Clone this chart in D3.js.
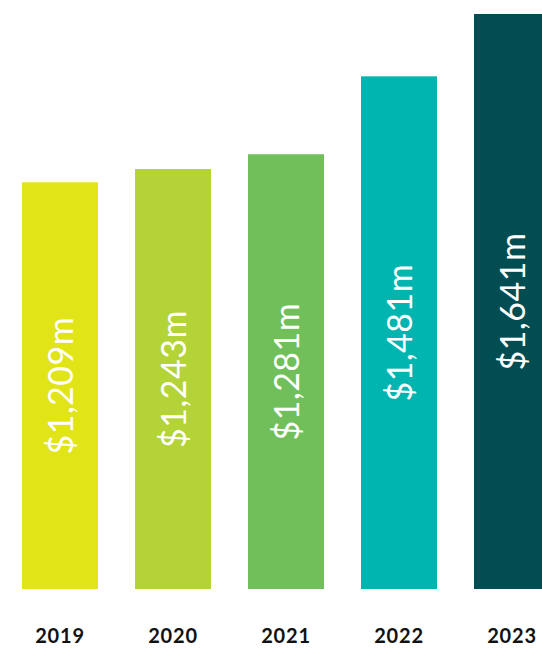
<!DOCTYPE html>
<html>
<head>
<meta charset="utf-8">
<script src="https://cdn.jsdelivr.net/npm/d3@7"></script>
<style>
  html, body { margin: 0; padding: 0; background: #fff; }
  svg { display: block; }
</style>
</head>
<body>
<div id="main"></div>
<script>
// data
var years = ["2019", "2020", "2021", "2022", "2023"];
var values = [1209, 1243, 1281, 1481, 1641];
var labels = ["$1,209m", "$1,243m", "$1,281m", "$1,481m", "$1,641m"];
var colors = ["#e1e417", "#b3d337", "#71bf5b", "#00b5b0", "#014d52"];

var width = 542,
    height = 652,
    baseY = 589,
    topY = 14;

var svg = d3.select("#main")
    .append("svg")
    .attr("width", width)
    .attr("height", height);

// bars are 76px wide, 113px apart, first one starts at x=22
var x = d3.scaleBand()
    .domain(years)
    .range([22, 550])
    .paddingInner(37 / 113)
    .paddingOuter(0);

// the chart does not start at zero
var y = d3.scaleLinear()
    .domain([165, 1641])
    .range([baseY, topY]);

var data = years.map(function(d, i) {
    return {year: d, value: values[i], label: labels[i], color: colors[i]};
});

svg.append("g")
    .selectAll("rect")
    .data(data)
    .enter()
    .append("rect")
    .attr("x", function(d) { return x(d.year); })
    .attr("y", function(d) { return y(d.value); })
    .attr("width", x.bandwidth())
    .attr("height", function(d) { return baseY - y(d.value); })
    .attr("fill", function(d) { return d.color; });

// value labels, rotated, centered in each bar
svg.append("g")
    .selectAll("text")
    .data(data)
    .enter()
    .append("text")
    .attr("transform", function(d) {
        var cx = x(d.year) + x.bandwidth() / 2 - 1;
        var cy = (y(d.value) + baseY) / 2;
        return "translate(" + cx + "," + cy + ") rotate(-90)";
    })
    .attr("text-anchor", "middle")
    .attr("dominant-baseline", "central")
    .style("font-family", "Lato, 'Open Sans', sans-serif")
    .style("font-weight", "400")
    .style("font-size", "34px")
    .style("letter-spacing", "0.5px")
    .attr("fill", "#fff")
    .text(function(d) { return d.label; });

// year axis
svg.append("g")
    .selectAll("text")
    .data(data)
    .enter()
    .append("text")
    .attr("x", function(d) { return x(d.year) + x.bandwidth() / 2; })
    .attr("y", 643)
    .attr("text-anchor", "middle")
    .style("font-family", "Lato, 'Open Sans', sans-serif")
    .style("font-weight", "700")
    .style("font-size", "20px")
    .style("letter-spacing", "0.8px")
    .attr("fill", "#111")
    .text(function(d) { return d.year; });
</script>
</body>
</html>
